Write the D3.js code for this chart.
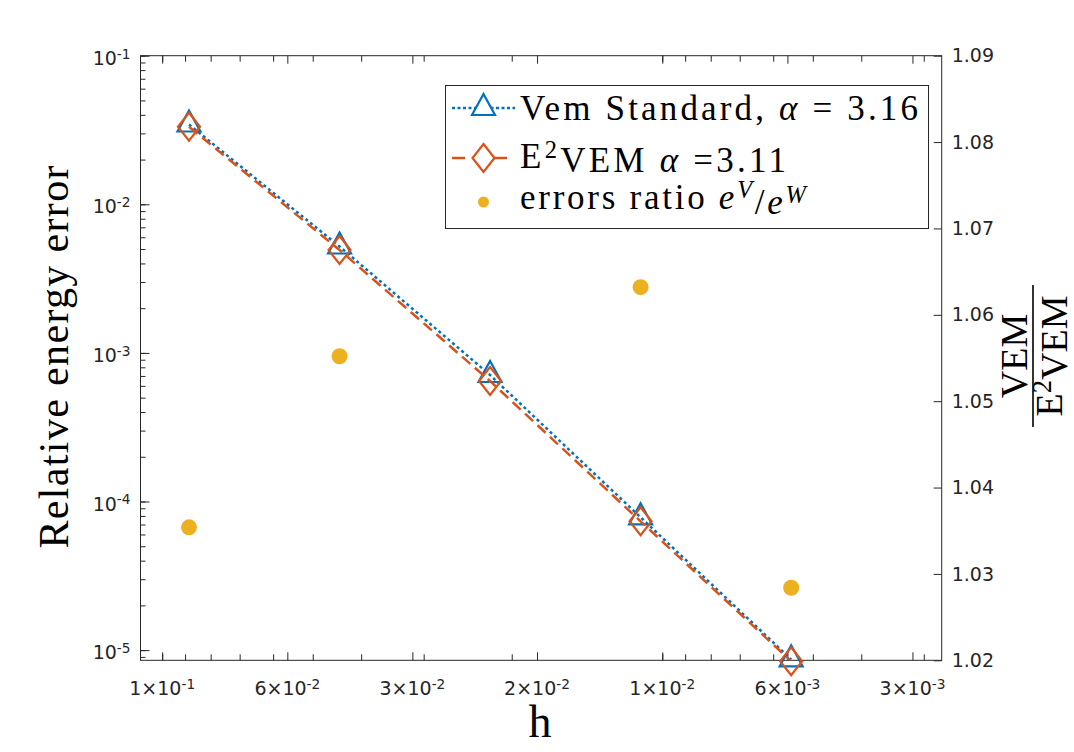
<!DOCTYPE html>
<html>
<head>
<meta charset="utf-8">
<style>
  body { margin: 0; background: #fff; }
  svg { display: block; }
  .tk { font-family: "DejaVu Sans", sans-serif; font-size: 19px; fill: #262626; }
  .serif { font-family: "Liberation Serif", serif; fill: #000; }
</style>
</head>
<body>
<div id="chart"></div>
<script src="https://d3js.org/d3.v7.min.js"></script>
<script>
// mesh sizes and errors
const h = [0.08839, 0.04419, 0.02210, 0.01105, 0.005524];
const errVem = [0.03443, 5.20e-3, 7.10e-4, 7.83e-5, 8.67e-6];
const errE2vem = [0.03328, 4.925e-3, 6.47e-4, 7.36e-5, 8.42e-6];
const ratio = [1.0354, 1.0552, 1.097, 1.0632, 1.0284];

// tick labels
const xTickValues = [0.1, 0.0562, 0.0316, 0.0178, 0.01, 0.00562, 0.00316];
const xTickMant = ["1", "6", "3", "2", "1", "6", "3"];
const xTickExp = ["-1", "-2", "-2", "-2", "-2", "-3", "-3"];
const yTickValues = [1e-1, 1e-2, 1e-3, 1e-4, 1e-5];
const yTickExp = ["-1", "-2", "-3", "-4", "-5"];
const yRTickValues = [1.02, 1.03, 1.04, 1.05, 1.06, 1.07, 1.08, 1.09];

const width = 1074, height = 752;
const pLeft = 140.5, pRight = 941.7, pTop = 55.7, pBottom = 660.3;
const blue = "#0072BD", orange = "#D95319", yellow = "#EDB120", axc = "#262626";

const svg = d3.select("#chart").append("svg")
  .attr("width", width)
  .attr("height", height);

const x = d3.scaleLog().domain([0.1105, 0.002762]).range([pLeft, pRight]);
const yL = d3.scaleLog().domain([8.54e-6, 0.1]).range([pBottom, pTop]);
const yR = d3.scaleLinear().domain([1.02, 1.09]).range([pBottom, pTop]);

// ticks (inward)
function tickAxis(axis, tr) {
  const g = svg.append("g").attr("transform", tr).call(axis);
  g.select(".domain").remove();
  g.selectAll("line").attr("stroke", axc).attr("stroke-width", 1);
  return g;
}
const xMinor = x.ticks().filter(v => v < 0.1105 && v > 0.002762);
const yMinor = yL.ticks().filter(v => v > 8.54e-6);
tickAxis(d3.axisBottom(x).tickValues(xMinor).tickSize(-6).tickFormat(""), `translate(0,${pBottom})`);
tickAxis(d3.axisTop(x).tickValues(xMinor).tickSize(-6).tickFormat(""), `translate(0,${pTop})`);
tickAxis(d3.axisBottom(x).tickValues(xTickValues).tickSize(-8).tickFormat(""), `translate(0,${pBottom})`);
tickAxis(d3.axisTop(x).tickValues(xTickValues).tickSize(-8).tickFormat(""), `translate(0,${pTop})`);
tickAxis(d3.axisLeft(yL).tickValues(yMinor).tickSize(-5).tickFormat(""), `translate(${pLeft},0)`);
tickAxis(d3.axisLeft(yL).tickValues(yTickValues).tickSize(-9).tickFormat(""), `translate(${pLeft},0)`);
const gR = tickAxis(d3.axisRight(yR).tickValues(yRTickValues).tickSize(-8).tickPadding(10)
  .tickFormat(d3.format(".2f")), `translate(${pRight},0)`);
gR.selectAll("text").attr("class", "tk").attr("fill", null);
gR.attr("font-family", null).attr("font-size", null);

// box
svg.append("rect")
  .attr("x", pLeft).attr("y", pTop)
  .attr("width", pRight - pLeft).attr("height", pBottom - pTop)
  .attr("fill", "none").attr("stroke", axc).attr("stroke-width", 1);

// x tick labels
xTickValues.forEach((v, i) => {
  const t = svg.append("text").attr("class", "tk")
    .attr("x", x(v)).attr("y", pBottom + 35).attr("text-anchor", "middle");
  t.append("tspan").text(xTickMant[i] + "\u00d710");
  t.append("tspan").attr("dy", "-0.45em").attr("font-size", "0.72em").text(xTickExp[i]);
});
// y tick labels
yTickValues.forEach((v, i) => {
  const t = svg.append("text").attr("class", "tk")
    .attr("x", pLeft - 10).attr("y", yL(v) + 9).attr("text-anchor", "end");
  t.append("tspan").text("10");
  t.append("tspan").attr("dy", "-0.45em").attr("font-size", "0.72em").text(yTickExp[i]);
});

// axis titles
svg.append("text").attr("class", "serif")
  .attr("transform", `translate(68,357) rotate(-90)`)
  .attr("text-anchor", "middle").attr("font-size", 42)
  .attr("textLength", 383).attr("lengthAdjust", "spacing")
  .text("Relative energy error");
svg.append("text").attr("class", "serif")
  .attr("x", 540).attr("y", 737).attr("text-anchor", "middle").attr("font-size", 46)
  .text("h");
const fr = svg.append("g").attr("transform", "translate(1033,356) rotate(-90)");
fr.append("text").attr("class", "serif").attr("y", -6).attr("text-anchor", "middle")
  .attr("font-size", 38).text("VEM");
fr.append("line").attr("x1", -71).attr("x2", 71).attr("stroke", "#000").attr("stroke-width", 1.6);
const den = fr.append("text").attr("class", "serif").attr("y", 29).attr("text-anchor", "middle")
  .attr("font-size", 38);
den.append("tspan").text("E");
den.append("tspan").attr("dy", "-0.4em").attr("font-size", "0.7em").text("2");
den.append("tspan").attr("dy", "0.4em").text("VEM");

// markers
const tri = (cx, cy) => `M${cx},${cy - 14}L${cx + 11.5},${cy + 7}L${cx - 11.5},${cy + 7}Z`;
const dia = (cx, cy) => `M${cx},${cy - 14}L${cx + 11},${cy}L${cx},${cy + 14}L${cx - 11},${cy}Z`;

svg.append("clipPath").attr("id", "clip").append("rect")
  .attr("x", pLeft).attr("y", pTop).attr("width", pRight - pLeft).attr("height", pBottom - pTop);

const line = d3.line().x(d => x(d[0])).y(d => yL(d[1]));
svg.append("path")
  .attr("d", line(h.map((v, i) => [v, errVem[i]])))
  .attr("clip-path", "url(#clip)")
  .attr("fill", "none").attr("stroke", blue).attr("stroke-width", 2.5)
  .attr("stroke-dasharray", "3 3");
svg.selectAll(".mv").data(h).enter().append("path")
  .attr("d", (v, i) => tri(x(v), yL(errVem[i])))
  .attr("fill", "none").attr("stroke", blue).attr("stroke-width", 2.2);

svg.append("path")
  .attr("d", line(h.map((v, i) => [v, errE2vem[i]])))
  .attr("clip-path", "url(#clip)")
  .attr("fill", "none").attr("stroke", orange).attr("stroke-width", 2.5)
  .attr("stroke-dasharray", "11 6");
svg.selectAll(".me").data(h).enter().append("path")
  .attr("d", (v, i) => dia(x(v), yL(errE2vem[i])))
  .attr("fill", "none").attr("stroke", orange).attr("stroke-width", 2.2);

// errors ratio on right axis (points outside the limits are not shown)
svg.selectAll(".dot").data(h.filter((v, i) => ratio[i] <= 1.09 && ratio[i] >= 1.02))
  .enter().append("circle")
  .attr("cx", v => x(v))
  .attr("cy", v => yR(ratio[h.indexOf(v)]))
  .attr("r", 8).attr("fill", yellow);

// legend
const lg = svg.append("g");
lg.append("rect").attr("x", 445.5).attr("y", 85.5).attr("width", 483).attr("height", 143)
  .attr("fill", "#fff").attr("stroke", axc).attr("stroke-width", 1);
lg.append("line").attr("x1", 452).attr("x2", 515).attr("y1", 108).attr("y2", 108)
  .attr("stroke", blue).attr("stroke-width", 2.5).attr("stroke-dasharray", "3 2.5");
lg.append("path").attr("d", tri(483.5, 108)).attr("fill", "#fff").attr("stroke", blue).attr("stroke-width", 2.2);
lg.append("line").attr("x1", 452).attr("x2", 515).attr("y1", 158).attr("y2", 158)
  .attr("stroke", orange).attr("stroke-width", 2.5).attr("stroke-dasharray", "13 8");
lg.append("path").attr("d", dia(483.5, 158)).attr("fill", "#fff").attr("stroke", orange).attr("stroke-width", 2.2);
lg.append("circle").attr("cx", 483.5).attr("cy", 202).attr("r", 5.5).attr("fill", yellow);

const l1 = lg.append("text").attr("class", "serif").attr("x", 520).attr("y", 120).attr("font-size", 35)
  .attr("textLength", 398).attr("lengthAdjust", "spacing");
l1.append("tspan").text("Vem Standard, ");
l1.append("tspan").attr("font-style", "italic").text("\u03b1");
l1.append("tspan").text(" = 3.16");
const l2 = lg.append("text").attr("class", "serif").attr("x", 520).attr("y", 168).attr("font-size", 35)
  .attr("textLength", 266).attr("lengthAdjust", "spacing");
l2.append("tspan").text("E");
l2.append("tspan").attr("dy", "-0.4em").attr("font-size", "0.7em").text("2");
l2.append("tspan").attr("dy", "0.4em").text("VEM ");
l2.append("tspan").attr("font-style", "italic").text("\u03b1");
l2.append("tspan").text(" =3.11");
const l3 = lg.append("text").attr("class", "serif").attr("x", 520).attr("y", 209).attr("font-size", 35)
  .attr("textLength", 286).attr("lengthAdjust", "spacing");
l3.append("tspan").text("errors ratio ");
l3.append("tspan").attr("font-style", "italic").text("e");
l3.append("tspan").attr("dy", "-0.45em").attr("font-size", "0.7em").attr("font-style", "italic").text("V");
l3.append("tspan").attr("dy", "0.45em").text("/");
l3.append("tspan").attr("font-style", "italic").text("e");
l3.append("tspan").attr("dy", "-0.45em").attr("font-size", "0.7em").attr("font-style", "italic").text("W");
</script>
</body>
</html>
